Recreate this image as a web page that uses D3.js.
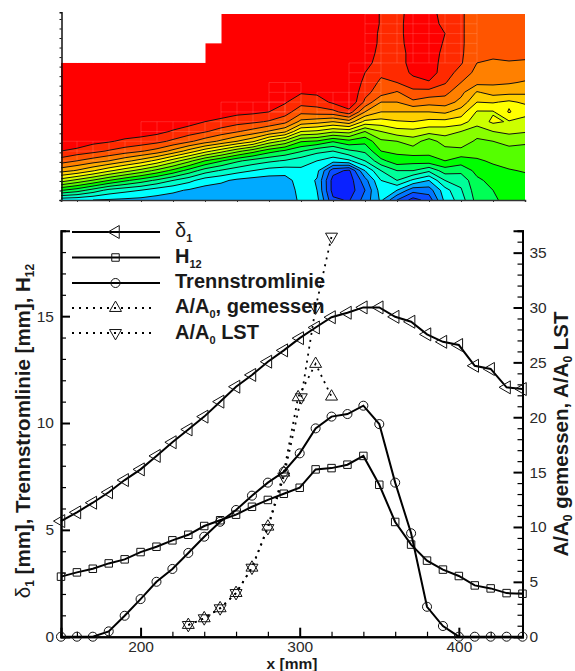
<!DOCTYPE html>
<html>
<head>
<meta charset="utf-8">
<script src="https://cdn.jsdelivr.net/npm/d3@7"></script>
<style>
  body { margin: 0; background: #fff; }
  text { font-family: "Liberation Sans", Arial, sans-serif; fill: #1a1a1a; }
  .tick text { font-size: 15.5px; fill: #2a2a2a; }
</style>
</head>
<body>
<div id="chart"></div>
<script>
// x positions of the profile stations [mm]
const stations = [150,160,170,180,190,200,210,220,230,240,250,260,270,280,290,300,310,320,330,340,350,360,370,380,390,400,410,420,430,440];

const delta1 = [5.41,5.82,6.27,6.76,7.33,7.83,8.46,9.1,9.7,10.3,11.0,11.7,12.25,12.87,13.4,13.97,14.47,14.95,15.16,15.41,15.41,14.97,14.74,14.15,13.8,13.65,12.68,12.53,11.67,11.59];
const h12 = [2.81,3.01,3.18,3.43,3.62,3.96,4.21,4.51,4.77,5.18,5.45,5.71,6.08,6.4,6.69,6.97,7.83,7.89,8.05,8.46,7.11,5.37,4.31,3.56,3.14,2.84,2.4,2.26,2.04,2.01];
const trenn = [0,0,0,0.25,0.98,1.76,2.57,3.17,3.92,4.68,5.38,5.93,6.6,7.21,7.72,8.58,9.75,10.3,10.42,10.81,9.95,7.21,4.84,1.4,0.5,0,0,0,0,0];

const gemessenX = [230,240,250,260,270,280,290,299,310,320];
const gemessen = [1.07,1.68,2.59,3.98,6.29,10.03,14.95,21.82,24.86,21.88];
const lstX = [230,240,250,260,270,280,290,301,310,320];
const lst = [1.07,1.68,2.59,3.98,6.29,9.9,14.6,21.82,30.0,36.46];

const xMajor = [200,300,400];
const xMinor = [160,180,220,240,260,280,320,340,360,380,420,440];
const leftMajor = [0,5,10,15];
const leftMinor = [1,2,3,4,6,7,8,9,11,12,13,14,16,17,18,19];
const rightMajor = [0,5,10,15,20,25,30,35];
const rightMinor = [1,2,3,4,6,7,8,9,11,12,13,14,16,17,18,19,21,22,23,24,26,27,28,29,31,32,33,34,36,37];

// contour field, one list per station, wall normal rows top to bottom (level 0-20)
const field = [
  [20,20,20,20,20,20,20,20,20,20,20,20,20,20,19,17.5,15.4,12.5,9.1,5.3],
  [20,20,20,20,20,20,20,20,20,20,20,20,20,20,18.6,17,14.9,11.7,8.5,5.2],
  [20,20,20,20,20,20,20,20,20,20,20,20,20,19.3,18.3,16.5,14.1,10.9,7.6,5],
  [20,20,20,20,20,20,20,20,20,20,20,20,20,19.1,17.9,16,13.2,10,6.7,4.9],
  [20,20,20,20,20,20,20,20,20,20,20,20,19.6,18.8,17.5,15.3,12.4,9.2,6.3,4.8],
  [20,20,20,20,20,20,20,20,20,20,20,20,19.5,18.6,17.1,14.6,11.6,8.5,6,4.7],
  [20,20,20,20,20,20,20,20,20,20,20,20,19.3,18.3,16.6,13.7,10.7,7.8,5.5,4.6],
  [20,20,20,20,20,20,20,20,20,20,20,19.6,18.9,17.8,15.7,12.5,9.7,7,5.2,4.5],
  [20,20,20,20,20,20,20,20,20,20,20,19.4,18.5,17.2,14.6,11.3,8.6,6.3,4.9,4.4],
  [20,20,20,20,20,20,20,20,20,20,19.9,19,18.1,16.5,13.4,10,7.5,5.5,4.6,4.3],
  [20,20,20,20,20,20,20,20,20,20,19.6,18.7,17.6,15.8,12.4,9.1,6.9,5.2,4.5,4.3],
  [20,20,20,20,20,20,20,20,20,20,19.3,18.4,17.1,15,11.3,8.2,6.4,4.8,4.4,4.2],
  [20,20,20,20,20,20,20,20,20,20,19.2,18.2,16.6,14.2,10.4,7.6,6,4.6,4.3,4.2],
  [20,20,20,20,20,20,20,20,20,19.5,19,17.9,15.9,12.6,9.4,7.2,5.6,4.5,4.2,4.2],
  [20,20,20,20,20,20,20,20,20,19.1,18.5,17.3,15.2,11.7,8.8,6.9,5.5,4.5,4.3,4.4],
  [20,20,20,20,20,20,20,20,19.1,18.4,17.3,15.7,13,10.1,8.1,6.4,5.8,5.6,5.4,5.2],
  [20,20,20,20,20,20,20,20,19.2,18.5,17.5,15.4,12.8,9.9,7.3,6,5.3,4.9,5,5.3],
  [20,20,20,20,20,20,20,20,20,19.2,17.7,15,12.2,9.1,7,5.4,2.4,1.6,1.6,2.2],
  [20,20,20,20,20,20,20,20,20,20,18.6,15.6,12.4,9.7,7.8,5.8,1.8,1.4,1.4,1.9],
  [19.8,19.8,19.7,19.6,19.5,19.4,19,18.7,18.3,17.8,16,13.7,11,9.3,8.2,7,5,3.6,3,3.4],
  [18.9,18.9,18.8,18.8,18.7,18.5,18.2,17.8,17.5,16,15,13.6,12,10.8,10,8.7,7,6,5.5,5.2],
  [18.6,18.6,18.6,18.6,18.5,18.5,18.4,18,16.9,16,15,13.9,12.6,11,10.2,9.6,8,7,5,3],
  [19.5,19.6,19.6,19.5,19.4,19.4,19.2,18.6,17.7,16.8,15,14,12.7,11.5,10.5,9.4,8,5.8,3.4,1.6],
  [19.4,19.5,19.5,19.5,19.4,19.4,19.5,18.9,17.6,16.4,15,13.7,12.4,10.5,10.3,9.6,7.2,5,3.5,2.4],
  [18.6,18.7,19,18.9,18.8,18.7,18.5,18.1,17.3,16.5,15.2,13.7,12.4,11.5,10.6,10,8.5,7,5.6,5.3],
  [18.1,18.1,18.1,18.1,18.1,18.1,17.6,17,16.3,15.7,14.5,13.5,12,11.6,10.7,9.5,8.3,7.3,6.9,6.5],
  [17.6,17.6,17.6,17.6,17.5,17,16.7,16.3,14.9,14,12.9,12.4,11.5,10.8,10.3,9.9,9.3,8.8,8.6,8.4],
  [17.5,17.5,17.5,17.5,17.3,16.8,16.5,16.2,15.4,14.1,12.9,13.2,12,11,10.4,10.1,9.8,9.3,9,8.9],
  [17.5,17.5,17.5,17.5,17.4,16.9,16.6,16.1,15.3,13.8,14.1,12.9,12.3,11.2,10.8,10.5,9.9,9.4,9.3,9.2],
  [17.5,17.5,17.5,17.5,17.2,16.9,16.5,15.9,15.2,14.2,13.3,12.7,12.1,11.1,10.8,10.5,10.1,9.6,9.4,9.2]
];
// first row with data at each station (upper left corner was not measured)
const firstRow = [5,5,5,5,5,5,5,5,5,3,0,0,0,0,0,0,0,0,0,0,0,0,0,0,0,0,0,0,0,0];
// where the white mesh shows through: [colFrom, colTo, rowFrom, rowTo]
const meshPatches = [[19,26,0,5],[18,20,5,11],[16,18,8,11],[13,15,7,10],[10,14,9,12],[5,10,11,13],[0,5,13,15]];

const levels = d3.range(1, 20);
const levelColors = ["#0000ff","#0a22ff","#0a4cff","#0077ff","#00aaff","#00ffff","#00ffcc","#00ff99","#00ff55","#00ff00","#55ff00","#88ff00","#ccff00","#ffff00","#ffd000","#ffaa00","#ff8000","#ff5500","#ff2a00","#ff0000"];

const svg = d3.select("#chart").append("svg")
  .attr("width", 575)
  .attr("height", 671);

// ---------- contour panel ----------
const nCols = field.length;
const nRows = field[0].length;
const colScale = d3.scaleLinear().domain([0, nCols - 1]).range([61, 525]);
const rowScale = d3.scaleLinear().domain([0, nRows - 1]).range([14, 200]);

// pad the grid by one cell so the outer polygon edges fall outside the clip
const pad = 1;
const flat = [];
for (let r = -pad; r < nRows + pad; r++) {
  for (let c = -pad; c < nCols + pad; c++) {
    const cc = Math.max(0, Math.min(nCols - 1, c));
    const rr = Math.max(0, Math.min(nRows - 1, r));
    flat.push(field[cc][rr]);
  }
}
const contours = d3.contours()
  .size([nCols + 2 * pad, nRows + 2 * pad])
  .thresholds(levels)(flat);

const gridPath = d3.geoPath(d3.geoTransform({
  point(x, y) {
    this.stream.point(colScale(x - 0.5 - pad), rowScale(y - 0.5 - pad));
  }
}));

svg.append("clipPath").attr("id", "plotClip").append("rect")
  .attr("x", colScale(0)).attr("y", rowScale(0))
  .attr("width", colScale(nCols - 1) - colScale(0))
  .attr("height", rowScale(nRows - 1) - rowScale(0));

const contourGroup = svg.append("g").attr("clip-path", "url(#plotClip)");

contourGroup.append("rect")
  .attr("x", colScale(0)).attr("y", rowScale(0))
  .attr("width", colScale(nCols - 1) - colScale(0))
  .attr("height", rowScale(nRows - 1) - rowScale(0))
  .attr("fill", levelColors[0]);

contourGroup.selectAll("path.band")
  .data(contours)
  .enter().append("path")
  .attr("class", "band")
  .attr("d", gridPath)
  .attr("fill", (d, i) => levelColors[i + 1]);

// faint mesh under the isolines
meshPatches.forEach(([c0, c1, r0, r1]) => {
  const mesh = contourGroup.append("g")
    .attr("stroke", "#fff").attr("stroke-opacity", 0.14).attr("stroke-width", 1);
  d3.range(r0, r1 + 1).forEach(r => {
    mesh.append("line")
      .attr("x1", colScale(c0)).attr("x2", colScale(c1))
      .attr("y1", rowScale(r)).attr("y2", rowScale(r));
  });
  d3.range(c0, c1 + 1).forEach(c => {
    mesh.append("line")
      .attr("x1", colScale(c)).attr("x2", colScale(c))
      .attr("y1", rowScale(r0)).attr("y2", rowScale(r1));
  });
});

contourGroup.selectAll("path.iso")
  .data(contours)
  .enter().append("path")
  .attr("class", "iso")
  .attr("d", gridPath)
  .attr("fill", "none")
  .attr("stroke", "#111")
  .attr("stroke-width", 1);

// blank the corner without data
contourGroup.selectAll("rect.blank")
  .data(firstRow.slice(0, -1))
  .enter().append("rect")
  .attr("class", "blank")
  .attr("x", (d, i) => colScale(i))
  .attr("y", rowScale(0) - 1)
  .attr("width", 16.5)
  .attr("height", d => rowScale(d) - rowScale(0) + (d ? 1 : 0))
  .attr("fill", "#fff");

// panel axes, short outward ticks
const rowTickScale = d3.scaleLinear().domain([0, 19.7]).range([200, 12.3]);
const panelLeft = d3.axisLeft(rowTickScale).tickValues(d3.range(0, 20)).tickSize(2).tickFormat("");
svg.append("g").attr("transform", "translate(61.5,0)").call(panelLeft)
  .call(g => g.selectAll("path,line").attr("stroke", "#111"))
  .call(g => g.select("path").attr("stroke-width", 1.5));

const panelX = d3.scaleLinear().domain([150, 440]).range([61, 525]);
const panelBottom = d3.axisBottom(panelX).tickValues(d3.range(160, 441, 20)).tickSize(2).tickFormat("");
svg.append("g").attr("transform", "translate(0,200)").call(panelBottom)
  .call(g => g.selectAll("path,line").attr("stroke", "#333"))
  .call(g => g.select("path").attr("stroke-width", 1.5));

// ---------- profile chart ----------
const x = d3.scaleLinear().domain([150, 440]).range([61, 522.5]);
const yLeft = d3.scaleLinear().domain([0, 19]).range([636.7, 230.7]);
const yRight = d3.scaleLinear().domain([0, 37]).range([636.7, 230.7]);

function styleAxis(g) {
  g.select("path").attr("stroke", "#000").attr("stroke-width", 2);
  g.selectAll("line").attr("stroke", "#000").attr("stroke-width", 1.2);
}

// minor ticks first, then the major ones with labels
svg.append("g").attr("transform", "translate(61,0)")
  .call(d3.axisLeft(yLeft).tickValues(leftMinor).tickSize(-5).tickFormat("")).call(styleAxis);
svg.append("g").attr("transform", "translate(61,0)")
  .call(d3.axisLeft(yLeft).tickValues(leftMajor).tickSize(-9).tickPadding(7)).call(styleAxis)
  .call(g => g.selectAll("line").attr("stroke-width", 2));

svg.append("g").attr("transform", "translate(522.5,0)")
  .call(d3.axisRight(yRight).tickValues(rightMinor).tickSize(-5).tickFormat("")).call(styleAxis);
svg.append("g").attr("transform", "translate(522.5,0)")
  .call(d3.axisRight(yRight).tickValues(rightMajor).tickSize(-9).tickPadding(7)).call(styleAxis)
  .call(g => g.selectAll("line").attr("stroke-width", 2));

svg.append("g").attr("transform", "translate(0,636.7)")
  .call(d3.axisBottom(x).tickValues(xMinor).tickSize(-5).tickFormat("")).call(styleAxis);
svg.append("g").attr("transform", "translate(0,636.7)")
  .call(d3.axisBottom(x).tickValues(xMajor).tickSize(-9).tickPadding(4)).call(styleAxis)
  .call(g => g.selectAll("line").attr("stroke-width", 2));

const triLeft = { type: d3.symbolTriangle, size: 73, rotate: -90 };
const triUp = { type: d3.symbolTriangle, size: 62, rotate: 0 };
const triDown = { type: d3.symbolTriangle, size: 62, rotate: 180 };
const square = { type: d3.symbolSquare, size: 56, rotate: 0 };
const circle = { type: d3.symbolCircle, size: 64, rotate: 0 };

function drawSeries(xs, ys, yScale, marker, dash) {
  const pts = xs.map((v, i) => [x(v), yScale(ys[i])]);
  svg.append("path")
    .attr("d", d3.line()(pts))
    .attr("fill", "none")
    .attr("stroke", "#000")
    .attr("stroke-width", dash ? 1.8 : 2)
    .attr("stroke-dasharray", dash);
  drawMarkers(pts, marker);
}

function drawMarkers(pts, marker) {
  svg.append("g").selectAll("path")
    .data(pts)
    .enter().append("path")
    .attr("d", d3.symbol().type(marker.type).size(marker.size))
    .attr("transform", d => `translate(${d[0]},${d[1]}) rotate(${marker.rotate})`)
    .attr("fill", "none")
    .attr("stroke", "#111")
    .attr("stroke-width", 1);
}

// legend below the curves, as the dotted curve runs across its text
const legendRows = [
  { y: 232, marker: triLeft, dash: null, base: 237, label: [["δ", null], ["1", "sub"]] },
  { y: 257.5, marker: square, dash: null, base: 263, label: [["H", null], ["12", "sub"]] },
  { y: 283, marker: circle, dash: null, base: 288, label: [["Trennstromlinie", null]] },
  { y: 308, marker: triUp, dash: "2 5", base: 313, label: [["A/A", null], ["0", "sub"], [", gemessen", null]] },
  { y: 333, marker: triDown, dash: "2 5", base: 339, label: [["A/A", null], ["0", "sub"], [" LST", null]] }
];

legendRows.forEach(row => {
  svg.append("line")
    .attr("x1", 72).attr("x2", row.dash ? 156 : 160)
    .attr("y1", row.y).attr("y2", row.y)
    .attr("stroke", "#000").attr("stroke-width", row.dash ? 1.8 : 2)
    .attr("stroke-dasharray", row.dash);
  drawMarkers([[115.5, row.y]], row.marker);
  const t = svg.append("text")
    .attr("x", 175).attr("y", row.base)
    .attr("font-size", 20).attr("font-weight", "bold");
  row.label.forEach(([s, kind]) => {
    const span = t.append("tspan").text(s);
    if (kind === "sub") span.attr("font-size", 11).attr("dy", 5);
    else if (t.selectAll("tspan").size() > 1) span.attr("dy", -5);
    if (s === "δ") span.attr("font-weight", "normal");
  });
});

drawSeries(gemessenX, gemessen, yRight, triUp, "2 5");
drawSeries(lstX, lst, yRight, triDown, "2 5");
drawSeries(stations, delta1, yLeft, triLeft, null);
drawSeries(stations, h12, yLeft, square, null);
drawSeries(stations, trenn, yLeft, circle, null);

// axis titles
svg.append("text")
  .attr("x", 292).attr("y", 669)
  .attr("text-anchor", "middle")
  .attr("font-size", 15.5).attr("font-weight", "bold")
  .text("x [mm]");

function rotatedLabel(px, py, parts) {
  const t = svg.append("text")
    .attr("transform", `translate(${px},${py}) rotate(-90)`)
    .attr("text-anchor", "middle")
    .attr("font-size", 20.5).attr("font-weight", "bold");
  let prevSub = false;
  parts.forEach(([s, kind]) => {
    const span = t.append("tspan").text(s);
    if (kind === "sub") { span.attr("font-size", 12).attr("dy", 4); prevSub = true; }
    else if (prevSub) { span.attr("dy", -4); prevSub = false; }
    if (s === "δ") span.attr("font-weight", "normal");
  });
}

rotatedLabel(30, 431, [["δ", null], ["1", "sub"], [" [mm], Trennstromlinie [mm], H", null], ["12", "sub"]]);
rotatedLabel(568, 434, [["A/A", null], ["0", "sub"], [" gemessen, A/A", null], ["0", "sub"], [" LST", null]]);
</script>
</body>
</html>
